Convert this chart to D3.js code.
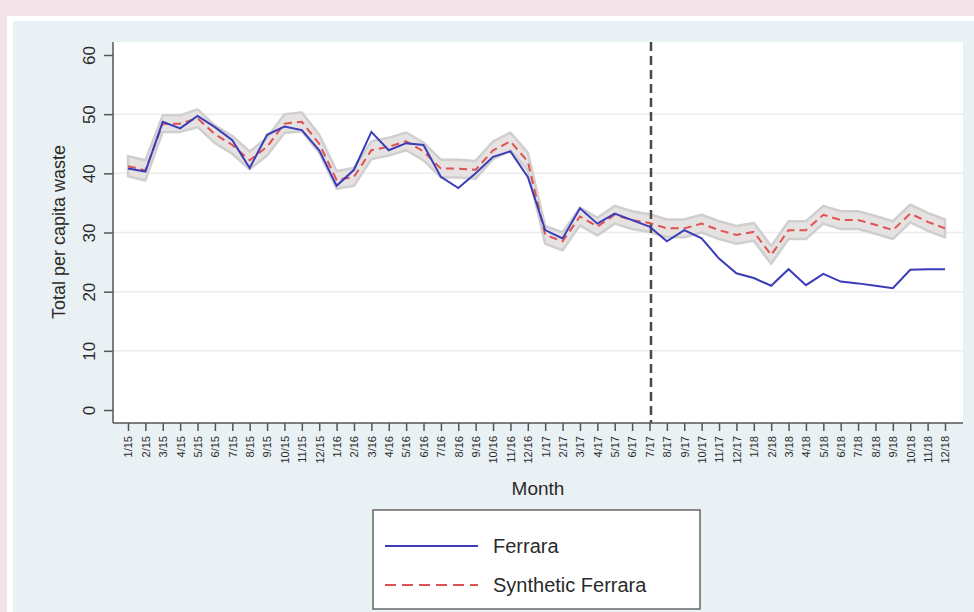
<!DOCTYPE html>
<html><head><meta charset="utf-8">
<script src="https://cdn.jsdelivr.net/npm/d3@7"></script>
<style>
html,body{margin:0;padding:0;background:#f2e4e8;}
svg{display:block;font-family:"Liberation Sans",Arial,Helvetica,sans-serif;}
</style></head><body>
<svg id="c" width="974" height="612"></svg>
<script>
const months = ["1/15","2/15","3/15","4/15","5/15","6/15","7/15","8/15","9/15","10/15","11/15","12/15",
"1/16","2/16","3/16","4/16","5/16","6/16","7/16","8/16","9/16","10/16","11/16","12/16",
"1/17","2/17","3/17","4/17","5/17","6/17","7/17","8/17","9/17","10/17","11/17","12/17",
"1/18","2/18","3/18","4/18","5/18","6/18","7/18","8/18","9/18","10/18","11/18","12/18"];
const ferrara = [40.8,40.3,48.7,47.6,49.7,47.8,45.6,40.9,46.5,47.9,47.3,43.9,
37.9,40.6,47.0,43.9,45.1,44.8,39.4,37.5,40.0,42.8,43.7,39.4,
30.4,29.0,34.1,31.5,33.2,32.1,31.0,28.5,30.4,29.0,25.6,23.1,
22.3,21.0,23.8,21.1,23.0,21.7,21.4,21.0,20.6,23.7,23.8,23.8];
const synthetic = [41.2,40.5,48.4,48.4,49.3,46.6,44.8,42.2,44.5,48.4,48.7,45.0,
38.9,39.4,43.9,44.5,45.4,43.7,40.8,40.8,40.6,43.9,45.4,42.0,
29.6,28.5,32.7,31.0,33.0,32.1,31.6,30.7,30.7,31.5,30.4,29.6,
30.1,26.2,30.4,30.4,33.0,32.1,32.1,31.3,30.4,33.2,31.8,30.7];
const bandHalf = [1.7,1.7,1.4,1.4,1.5,1.5,1.5,1.5,1.5,1.6,1.6,1.5,
1.5,1.5,1.5,1.5,1.5,1.5,1.5,1.5,1.5,1.5,1.5,1.5,
1.5,1.5,1.5,1.5,1.5,1.5,1.5,1.5,1.5,1.5,1.5,1.5,
1.5,1.5,1.5,1.5,1.5,1.5,1.5,1.5,1.5,1.5,1.5,1.5];
const yTicks = [0,10,20,30,40,50,60];
const treatMonth = "7/17";
const legendLabels = ["Ferrara","Synthetic Ferrara"];

const svg = d3.select("#c");
// frame backgrounds
svg.append("rect").attr("x",7).attr("y",16).attr("width",967).attr("height",596).attr("fill","#ffffff");
svg.append("rect").attr("x",13).attr("y",21).attr("width",961).attr("height",591).attr("fill","#eaf1f4");
const P = {l:113,t:42,r:963,b:423};
svg.append("rect").attr("x",P.l).attr("y",P.t).attr("width",P.r-P.l).attr("height",P.b-P.t).attr("fill","#ffffff");

const x = d3.scalePoint().domain(months).range([128,945]);
const y = d3.scaleLinear().domain([0,60]).range([410,55]);

// gridlines
svg.append("g").selectAll("line").data(yTicks.filter(d=>d>0&&d<60)).join("line")
  .attr("x1",P.l).attr("x2",P.r).attr("y1",d=>y(d)).attr("y2",d=>y(d))
  .attr("stroke","#ececec").attr("stroke-width",1.5);

// band
const area = d3.area().x((d,i)=>x(months[i])).y0((d,i)=>y(synthetic[i]-bandHalf[i])).y1((d,i)=>y(synthetic[i]+bandHalf[i]));
svg.append("path").datum(synthetic).attr("d",area).attr("fill","#e6e2e2").attr("stroke","#cfcfcf").attr("stroke-width",2.5).attr("stroke-linejoin","round");

// treatment line
svg.append("line").attr("x1",x(treatMonth)+1.5).attr("x2",x(treatMonth)+1.5).attr("y1",P.t).attr("y2",P.b)
  .attr("stroke","#4a4a4a").attr("stroke-width",2.5).attr("stroke-dasharray","9,5");

const line = d3.line().x((d,i)=>x(months[i])).y(d=>y(d));
svg.append("path").datum(synthetic).attr("d",line).attr("fill","none").attr("stroke","#e05252").attr("stroke-width",2).attr("stroke-dasharray","8,5");
svg.append("path").datum(ferrara).attr("d",line).attr("fill","none").attr("stroke","#3b3cb8").attr("stroke-width",2);

// y axis
const yAxis = svg.append("g").attr("transform",`translate(${P.l},0)`)
  .call(d3.axisLeft(y).tickValues(yTicks).tickSize(9).tickSizeOuter(0).tickPadding(6));
yAxis.select(".domain").attr("d",`M0,${P.t}V${P.b}`).attr("stroke","#555").attr("stroke-width",1.5);
yAxis.selectAll(".tick line").attr("stroke","#555").attr("stroke-width",1.5);
yAxis.selectAll(".tick text").attr("font-size",17).attr("fill","#2a2a2a")
  .attr("transform",function(d){return `rotate(-90,-15,0)`;})
  .attr("x",-15).attr("y",-3).attr("dy",0).attr("text-anchor","middle");

// x axis
const xAxis = svg.append("g").attr("transform",`translate(0,${P.b})`)
  .call(d3.axisBottom(x).tickSize(8).tickSizeOuter(0).tickPadding(4));
xAxis.select(".domain").attr("d",`M${P.l},0H${P.r}`).attr("stroke","#555").attr("stroke-width",1.5);
xAxis.selectAll(".tick line").attr("stroke","#555").attr("stroke-width",1.5);
xAxis.selectAll(".tick text").attr("font-size",11).attr("fill","#2a2a2a")
  .attr("transform","rotate(-90)").attr("x",-13).attr("y",0).attr("dy","0.35em").attr("text-anchor","end");

// axis titles
svg.append("text").attr("transform","translate(65,232) rotate(-90)").attr("text-anchor","middle")
  .attr("font-size",18).attr("fill","#2a2a2a").text("Total per capita waste");
svg.append("text").attr("x",538).attr("y",495).attr("text-anchor","middle")
  .attr("font-size",19).attr("fill","#2a2a2a").text("Month");

// legend
const lg = svg.append("g");
lg.append("rect").attr("x",373).attr("y",510).attr("width",327).attr("height",99).attr("fill","#ffffff").attr("stroke","#666").attr("stroke-width",1.5);
const ly = [546,585];
lg.append("line").attr("x1",385).attr("x2",478).attr("y1",ly[0]).attr("y2",ly[0]).attr("stroke","#3b3cb8").attr("stroke-width",2);
lg.append("line").attr("x1",385).attr("x2",478).attr("y1",ly[1]).attr("y2",ly[1]).attr("stroke","#e05252").attr("stroke-width",2).attr("stroke-dasharray","11,6");
lg.selectAll("text").data(legendLabels).join("text").attr("x",493).attr("y",(d,i)=>ly[i]+7)
  .attr("font-size",20).attr("fill","#2a2a2a").text(d=>d);
</script></body></html>
